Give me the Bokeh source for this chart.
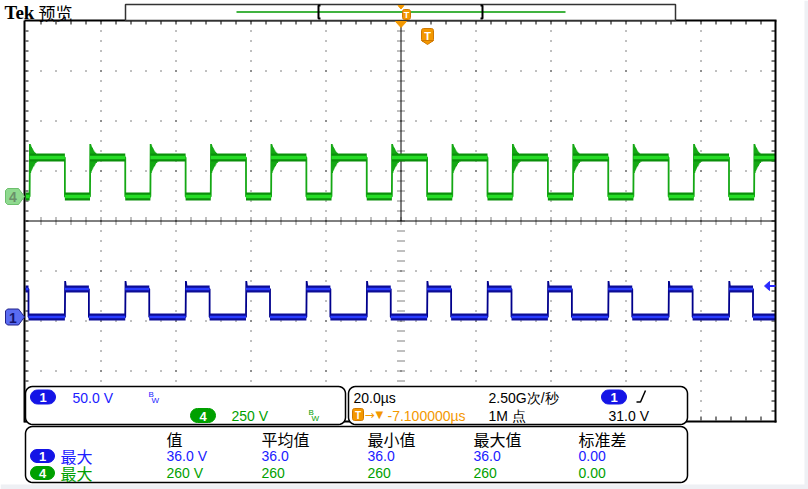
import math
from bokeh.plotting import figure
from bokeh.models import Range1d
from bokeh.embed import file_html
from bokeh.resources import INLINE
from bokeh.core.properties import value

TIME_PER_DIV_US = 20.0
CH1_V_PER_DIV = 50.0
CH4_V_PER_DIV = 250.0

# channel 1 (blue) edge times, µs relative to screen centre
ch1_rise_us = [-89.5, -73.4, -57.3, -41.2, -25.1, -9.0, 7.1, 23.2, 39.3, 55.4, 71.5, 87.6]
ch1_fall_us = [-99.2, -83.1, -67.0, -50.9, -34.8, -18.7, -2.6, 13.5, 29.6, 45.7, 61.8, 77.9, 94.0]
ch1_high_v = 28.0
ch1_low_v = 0.0
ch1_edge_dt = [0.0, 0.08, 0.3]
ch1_edge_v = [0.0, 36.0, 28.0]

# channel 4 (green) edge times, µs relative to screen centre
ch4_rise_us = [-98.9, -82.8, -66.7, -50.6, -34.5, -18.4, -2.3, 13.8, 29.9, 46.0, 62.1, 78.2, 94.3]
ch4_fall_us = [-89.5, -73.4, -57.3, -41.2, -25.1, -9.0, 7.1, 23.2, 39.3, 55.4, 71.5, 87.6]
ch4_high_v = 195.0
ch4_low_v = 0.0
ch4_ring_dt = [0.0, 0.08, 0.16, 0.24, 0.32, 0.40, 0.48, 0.56, 0.64, 0.72, 0.80,
               0.92, 1.04, 1.16, 1.28, 1.44, 1.60, 1.80, 2.00, 2.30, 2.60, 2.90]
ch4_ring_v = [0, 262, 118, 255, 126, 248, 134, 242, 140, 236, 146,
              230, 152, 224, 160, 218, 168, 212, 176, 206, 186, 197]

ch1_scale_label = "50.0 V"
ch4_scale_label = "250 V"
timebase_label = "20.0µs"
sample_rate_label = "2.50G次/秒"
trigger_pos_label = "-7.100000µs"
record_label = "1M 点"
trigger_level_label = "31.0 V"

meas_headers = ["值", "平均值", "最小值", "最大值", "标准差"]
ch1_meas = ["36.0 V", "36.0", "36.0", "36.0", "0.00"]
ch4_meas = ["260 V", "260", "260", "260", "0.00"]
meas_name = "最大"

# ---------------- layout ----------------
W, H = 808, 489
GL, GR, GT, GB = 25, 775, 20, 420
DX = (GR - GL) / 10.0
DY = (GB - GT) / 8.0
CX = (GL + GR) / 2.0
CY = (GT + GB) / 2.0
CH1_GND = 316.5
CH4_GND = 196.0

BLUE_TXT = "#2020ff"
GREEN_TXT = "#00a000"
ORANGE = "#f39800"
SANS = value("Liberation Sans")
CJK = value("Noto Sans CJK SC")

p = figure(width=W, height=H, x_range=Range1d(0, W), y_range=Range1d(H, 0),
           output_backend="svg", toolbar_location=None, min_border=0,
           x_axis_type=None, y_axis_type=None)
p.outline_line_color = None
p.grid.visible = False
p.background_fill_color = "white"
p.border_fill_color = "white"

p.extra_x_ranges = {"t": Range1d((0 - CX) / DX * TIME_PER_DIV_US, (W - CX) / DX * TIME_PER_DIV_US)}
p.extra_y_ranges = {
    "ch1": Range1d((CH1_GND - H) / DY * CH1_V_PER_DIV, CH1_GND / DY * CH1_V_PER_DIV),
    "ch4": Range1d((CH4_GND - H) / DY * CH4_V_PER_DIV, CH4_GND / DY * CH4_V_PER_DIV),
}
T0 = -5 * TIME_PER_DIV_US
T1 = 5 * TIME_PER_DIV_US

# page margins
p.quad(left=[W - 4, 0], right=[W, W], top=[0, H - 5], bottom=[H, H], fill_color="#eef0f4", line_color=None)

# ---------------- graticule ----------------
vx = [GL + i * DX + 0.5 for i in range(1, 10) if i != 5]
p.multi_line(xs=[[x, x] for x in vx], ys=[[GT, GB] for _ in vx], line_color="black",
             line_width=1, line_dash="1 9")
hy = [GT + j * DY + 0.5 for j in range(1, 8) if j != 4]
p.multi_line(xs=[[GL, GR] for _ in hy], ys=[[y, y] for y in hy], line_color="black",
             line_width=1, line_dash="1 14")
# centre cross
p.segment(x0=[CX + 0.5, GL], y0=[GT, CY + 0.5], x1=[CX + 0.5, GR], y1=[CY + 0.5, CY + 0.5],
          line_color="black", line_width=1)
tx = [GL + k * 15 + 0.5 for k in range(1, 50)]
ty = [GT + k * 10 + 0.5 for k in range(1, 40)]
p.segment(x0=tx, y0=[CY - 3] * len(tx), x1=tx, y1=[CY + 4] * len(tx), line_color="black",
          line_width=1, line_dash="1 1")
p.segment(x0=[CX - 3] * len(ty), y0=ty, x1=[CX + 4] * len(ty), y1=ty, line_color="black",
          line_width=1, line_dash="1 1")
# border ticks
p.segment(x0=tx + tx, y0=[GT] * len(tx) + [GB - 4] * len(tx), x1=tx + tx,
          y1=[GT + 4] * len(tx) + [GB] * len(tx), line_color="black", line_width=1)
p.segment(x0=[GL] * len(ty) + [GR - 4] * len(ty), y0=ty + ty,
          x1=[GL + 3] * len(ty) + [GR] * len(ty), y1=ty + ty, line_color="black", line_width=1)


# ---------------- traces ----------------
def trace_points(rise, fall, lo, hi, edge_dt, edge_v, t0, t1):
    events = sorted([(t, "r") for t in rise] + [(t, "f") for t in fall])
    state_hi = events[0][1] == "f"
    ts, vs = [t0], [hi if state_hi else lo]
    for t, kind in events:
        if kind == "r":
            for dt, v in zip(edge_dt, edge_v):
                if t + dt <= t1:
                    ts.append(t + dt)
                    vs.append(v)
            state_hi = True
        else:
            ts += [t, t]
            vs += [hi, lo]
            state_hi = False
    ts.append(t1)
    vs.append(hi if state_hi else lo)
    return ts, vs


def level_segments(rise, fall, lo, hi, t0, t1):
    events = sorted([(t, "r") for t in rise] + [(t, "f") for t in fall])
    state_hi = events[0][1] == "f"
    x0, x1, y = [], [], []
    prev = t0
    for t, kind in events:
        x0.append(prev)
        x1.append(t)
        y.append(hi if state_hi else lo)
        prev = t
        state_hi = kind == "r"
    x0.append(prev)
    x1.append(t1)
    y.append(hi if state_hi else lo)
    return x0, x1, y


def draw_channel(rise, fall, lo, hi, edge_dt, edge_v, yname, edge_col, dark, bright, wd, wb):
    ts, vs = trace_points(rise, fall, lo, hi, edge_dt, edge_v, T0, T1)
    p.line(ts, vs, x_range_name="t", y_range_name=yname, line_color=edge_col, line_width=1.8)
    x0, x1, y = level_segments(rise, fall, lo, hi, T0, T1)
    p.segment(x0=x0, y0=y, x1=x1, y1=y, x_range_name="t", y_range_name=yname,
              line_color=dark, line_width=wd, line_cap="butt")
    p.segment(x0=x0, y0=y, x1=x1, y1=y, x_range_name="t", y_range_name=yname,
              line_color=bright, line_width=wb, line_cap="butt")


draw_channel(ch4_rise_us, ch4_fall_us, ch4_low_v, ch4_high_v, ch4_ring_dt, ch4_ring_v, "ch4",
             "#14a814", "#0a8f0a", "#26dc26", 8, 3.5)
draw_channel(ch1_rise_us, ch1_fall_us, ch1_low_v, ch1_high_v, ch1_edge_dt, ch1_edge_v, "ch1",
             "#00008c", "#0c0c96", "#2a3cff", 7, 2.5)

# graticule border
p.segment(x0=[GL - 1, GL - 1, GL - 1, GR], y0=[GT, GB + 1, GT, GT], x1=[GR + 1, GR + 1, GL - 1, GR],
          y1=[GT, GB + 1, GB + 2, GB + 2], line_color="black", line_width=2)


# ---------------- helpers ----------------
def rrect(x0, y0, x1, y1, r, n=6):
    xs, ys = [], []
    for cx, cy, a0, a1 in [(x1 - r, y0 + r, -90, 0), (x1 - r, y1 - r, 0, 90),
                           (x0 + r, y1 - r, 90, 180), (x0 + r, y0 + r, 180, 270)]:
        for k in range(n + 1):
            a = math.radians(a0 + (a1 - a0) * k / n)
            xs.append(cx + r * math.cos(a))
            ys.append(cy + r * math.sin(a))
    return xs, ys


def box(x0, y0, x1, y1, r, fill, line, lw=1.5):
    xs, ys = rrect(x0, y0, x1, y1, r)
    p.patch(xs, ys, fill_color=fill, line_color=line, line_width=lw)


def txt(x, y, s, color="black", size="14px", font=SANS, align="left", style="normal"):
    p.text(x=[x], y=[y], text=[s], text_color=color, text_font=font, text_font_size=size,
           text_baseline="middle", text_align=align, text_font_style=style)


def pill(x0, y0, x1, y1, label, fill):
    box(x0, y0, x1, y1, (y1 - y0) / 2.0, fill, fill, 1)
    txt((x0 + x1) / 2.0, (y0 + y1) / 2.0 + 0.5, label, "white", "13px", SANS, "center", "bold")


def tbadge(x0, y0, x1, y1, size):
    box(x0, y0, x1, y1, 2, ORANGE, "#d07800", 1)
    txt((x0 + x1) / 2.0, (y0 + y1) / 2.0 + 0.5, "T", "white", size, SANS, "center", "bold")


# ---------------- top bar ----------------
txt(4, 12, "Tek", "black", "19px", value("Liberation Serif"), "left", "bold")
txt(38, 12, "预览", "black", "17px", CJK)
p.quad(left=[125], right=[675], top=[4], bottom=[20], fill_color="white", line_color="#333333", line_width=1.5)
p.segment(x0=[236], y0=[11.5], x1=[565], y1=[11.5], line_color="#009a00", line_width=1.5)
p.multi_line(xs=[[320, 318, 318, 320], [480, 482, 482, 480]],
             ys=[[5, 5, 18, 18], [5, 5, 18, 18]], line_color="black", line_width=2)
p.patch([397.5, 403.5, 400.5], [5, 5, 8.5], fill_color=ORANGE, line_color=ORANGE)
tbadge(402, 9, 410, 19, "9px")
# trigger position markers on graticule
p.patch([395, 406, 400.5], [21, 21, 27], fill_color=ORANGE, line_color=ORANGE)
box(421, 28, 433, 41, 2, ORANGE, "#d07800", 1)
p.patch([421, 433, 427], [40, 40, 44], fill_color=ORANGE, line_color="#d07800")
txt(427, 35, "T", "white", "11px", SANS, "center", "bold")

# ---------------- channel markers ----------------
p.patch([7, 18, 24, 18, 7, 5, 5], [CH4_GND - 8, CH4_GND - 8, CH4_GND, CH4_GND + 8, CH4_GND + 8, CH4_GND + 6, CH4_GND - 6],
        fill_color="#8fd98f", line_color="#6cbf6c", line_width=1)
txt(12.5, CH4_GND + 0.5, "4", "#6a8f6a", "14px", SANS, "center", "bold")
p.patch([7, 18, 24, 18, 7, 5, 5], [CH1_GND - 8, CH1_GND - 8, CH1_GND, CH1_GND + 8, CH1_GND + 8, CH1_GND + 6, CH1_GND - 6],
        fill_color="#5a6cf2", line_color="#22228a", line_width=1)
txt(12.5, CH1_GND + 0.5, "1", "#14146e", "14px", SANS, "center", "bold")
# trigger level arrow
trig_y = CH1_GND - 31.0 * DY / CH1_V_PER_DIV
p.patch([764, 769, 769], [trig_y, trig_y - 4.5, trig_y + 4.5], fill_color="#2a2aff", line_color="#2a2aff")
p.segment(x0=[768], y0=[trig_y], x1=[775], y1=[trig_y], line_color="#2a2aff", line_width=2)

# ---------------- info boxes ----------------
box(25, 386, 345, 424, 7, "white", "black")
pill(30, 389.5, 55, 403.5, "1", "#1414e6")
txt(72, 397, ch1_scale_label, BLUE_TXT)
txt(148, 394, "B", BLUE_TXT, "8px")
txt(151, 399.5, "W", BLUE_TXT, "8px")
pill(190, 408, 215, 422, "4", "#00a000")
txt(231, 415, ch4_scale_label, GREEN_TXT)
txt(308, 412, "B", GREEN_TXT, "8px")
txt(311, 417.5, "W", GREEN_TXT, "8px")

box(348, 386, 687, 424, 7, "white", "black")
txt(353, 397, timebase_label, "black")
txt(488, 397, sample_rate_label, "black")
pill(601, 389.5, 626, 403.5, "1", "#1414e6")
p.line([636, 640, 645], [401.5, 401.5, 390], line_color="black", line_width=1.5)
tbadge(352, 408, 363, 420, "10px")
txt(364, 414.5, "→", ORANGE, "12px", value("DejaVu Sans"))
txt(375, 414, "▼", ORANGE, "10px", value("DejaVu Sans"))
txt(387, 415, trigger_pos_label, ORANGE)
txt(488, 415, record_label, "black")
txt(608, 415, trigger_level_label, "black")

# ---------------- measurement table ----------------
box(25, 426, 687, 482, 7, "white", "black")
col_x = [166, 261, 367, 473, 578]
p.text(x=col_x, y=[438] * 5, text=meas_headers, text_color="black", text_font=CJK,
       text_font_size="16px", text_baseline="middle")
pill(30, 449, 54, 462, "1", "#1414e6")
pill(30, 466, 54, 479, "4", "#00a000")
txt(60, 455, meas_name, BLUE_TXT, "16px", CJK)
txt(60, 472, meas_name, GREEN_TXT, "16px", CJK)
p.text(x=col_x, y=[455.5] * 5, text=ch1_meas, text_color=BLUE_TXT, text_font=SANS,
       text_font_size="14px", text_baseline="middle")
p.text(x=col_x, y=[472.5] * 5, text=ch4_meas, text_color=GREEN_TXT, text_font=SANS,
       text_font_size="14px", text_baseline="middle")

open("out.html", "w").write(file_html(p, INLINE))
